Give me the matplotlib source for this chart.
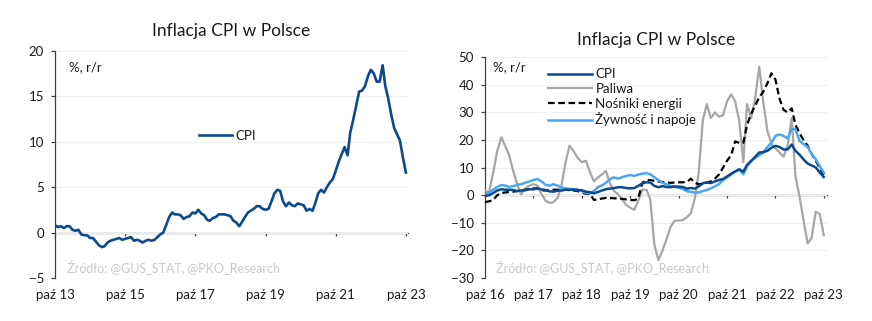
import matplotlib
matplotlib.use("Agg")
import matplotlib.pyplot as plt
import pandas as pd

plt.rcParams["font.family"] = ["Lato", "DejaVu Sans"]

# CPI y/y, %, Oct 2013 - Oct 2023
cpi = [
    0.8, 0.6, 0.7,
    0.5, 0.7, 0.7, 0.3, 0.2, 0.3, -0.2, -0.3, -0.3, -0.6, -0.6, -1.0,
    -1.4, -1.6, -1.5, -1.1, -0.9, -0.8, -0.7, -0.6, -0.8, -0.7, -0.6, -0.5,
    -0.9, -0.8, -0.9, -1.1, -0.9, -0.8, -0.9, -0.8, -0.5, -0.2, 0.0, 0.8,
    1.7, 2.2, 2.0, 2.0, 1.9, 1.5, 1.7, 1.8, 2.2, 2.1, 2.5, 2.1,
    1.9, 1.4, 1.3, 1.6, 1.7, 2.0, 2.0, 2.0, 1.9, 1.8, 1.3, 1.1,
    0.7, 1.2, 1.7, 2.2, 2.4, 2.6, 2.9, 2.9, 2.6, 2.5, 2.6, 3.4,
    4.3, 4.7, 4.6, 3.4, 2.9, 3.3, 3.0, 2.9, 3.2, 3.1, 3.0, 2.4,
    2.6, 2.4, 3.2, 4.3, 4.7, 4.4, 5.0, 5.5, 5.9, 6.8, 7.8, 8.6,
    9.4, 8.5, 11.0, 12.4, 13.9, 15.5, 15.6, 16.1, 17.2, 17.9, 17.5, 16.6,
    16.6, 18.4, 16.1, 14.7, 13.0, 11.5, 10.8, 10.1, 8.2, 6.6,
]

# components y/y, %, Oct 2016 - Oct 2023
fuel = [
    1.8, 1.0, 8.0, 16.0, 21.0, 18.0, 14.5, 9.0, 4.0, 0.3, 2.5, 3.5,
    4.0, 3.5, 0.5, -2.0, -2.8, -2.5, -1.0, 3.5, 12.0, 18.0, 16.0, 13.5,
    12.0, 12.5, 8.5, 5.0, 6.5, 7.5, 8.8, 4.5, 1.5, 0.5, -1.5, -3.5,
    -4.5, -5.3, -2.0, 2.0, 2.0, -1.5, -18.0, -23.5, -20.0, -16.0, -11.5, -9.2,
    -9.2, -9.0, -8.0, -6.5, -1.0, 8.0, 27.0, 33.0, 28.0, 30.0, 28.5, 29.0,
    34.0, 36.6, 34.0, 27.0, 12.0, 33.0, 28.0, 35.0, 46.6, 34.0, 23.5, 18.5,
    17.0, 15.5, 14.0, 18.0, 28.0, 7.0, -0.5, -9.0, -17.5, -15.5, -6.0, -6.8,
    -14.5,
]
energy = [
    -2.5, -2.2, -1.8, 0.0, 0.8, 1.0, 1.2, 1.3, 1.5, 1.8, 2.0, 2.2,
    2.5, 2.5, 1.8, 1.7, 1.8, 2.0, 2.0, 2.0, 2.0, 1.8, 1.7, 1.5,
    1.0, 0.5, 0.5, -1.7, -1.5, -1.2, -1.0, -1.0, -1.1, -1.2, -1.3, -1.5,
    -1.7, -1.8, -1.2, 4.5, 5.5, 5.5, 5.2, 5.0, 4.8, 4.7, 4.5, 4.6,
    4.7, 4.7, 4.8, 6.0, 4.5, 4.0, 4.2, 4.6, 5.0, 6.0, 7.5, 10.0,
    12.5, 14.5, 19.5, 19.0, 19.0, 25.5, 29.5, 32.5, 35.5, 37.5, 40.5, 44.2,
    42.0, 35.0, 31.0, 30.0, 31.5, 25.5, 22.5, 20.0, 18.0, 15.0, 12.5, 9.8,
    7.4,
]
food = [
    0.3, 1.0, 2.0, 3.0, 3.7, 3.5, 3.0, 3.3, 3.7, 4.0, 4.5, 5.0,
    5.5, 5.9, 5.0, 3.8, 3.5, 4.0, 3.5, 2.8, 2.5, 2.3, 2.2, 2.0,
    1.5, 0.8, 0.7, 1.5, 3.0, 3.5, 4.5, 5.8, 6.5, 6.0, 6.5, 7.0,
    7.3, 7.0, 7.5, 7.8, 8.0, 7.6, 6.5, 5.5, 4.5, 4.0, 3.4, 3.0,
    2.7, 2.3, 1.5, 1.2, 1.0, 1.0, 1.5, 1.9, 2.5, 3.2, 4.0, 5.5,
    6.5, 7.5, 8.6, 9.3, 7.6, 10.5, 12.5, 13.5, 14.5, 15.5, 17.5, 19.0,
    21.5, 22.0, 21.5, 20.6, 24.0, 24.0, 19.7, 18.5, 17.5, 15.0, 13.0, 10.5,
    8.2,
]

months = pd.date_range("2013-10-01", periods=len(cpi), freq="MS")
months_short = months[36:]
cpi_short = cpi[36:]

dark_blue = "#0b4a8f"
grey = "#a6a6a6"
light_blue = "#4ba6f2"
axis_col = "#404040"
text_col = "#1a1a1a"
source_col = "#c9c9c9"
W, H = 872, 321


def style_axes(ax, ylim, yticks, xticks, xlim):
    ax.set_ylim(*ylim)
    ax.set_yticks(yticks)
    ax.set_xlim(*xlim)
    ax.set_xticks(xticks)
    ax.set_xticklabels([f"paź {d:%y}" for d in xticks])
    for side in ("top", "right", "bottom"):
        ax.spines[side].set_visible(False)
    ax.spines["left"].set_color(axis_col)
    ax.spines["left"].set_linewidth(0.9)
    ax.tick_params(axis="y", length=3, width=0.9, color=axis_col,
                   labelsize=9.5, labelcolor=text_col, pad=5)
    ax.tick_params(axis="x", length=0, labelsize=9.5, labelcolor=text_col, pad=8)
    ax.grid(axis="y", color="#f0f0f0", linewidth=0.8)
    ax.set_axisbelow(True)

    # zero line with its own tick marks
    zero = ax.secondary_xaxis((0 - ylim[0]) / (ylim[1] - ylim[0]))
    zero.set_xticks(xticks)
    zero.tick_params(labelbottom=False, length=2.5, width=0.9, color=axis_col)
    zero.spines["bottom"].set_color(axis_col)
    zero.spines["bottom"].set_linewidth(0.9)


fig = plt.figure(figsize=(W / 100, H / 100), dpi=100)
ax1 = fig.add_axes([55 / W, 1 - 278 / H, (408 - 55) / W, (278 - 50.7) / H])
ax2 = fig.add_axes([485 / W, 1 - 278 / H, (826.7 - 485) / W, (278 - 57.3) / H])

# left: headline CPI, 10 years
ax1.plot(months, cpi, color=dark_blue, lw=1.9, label="CPI")
style_axes(ax1, (-5, 20), range(-5, 21, 5), months[::24],
           (months[0], months[-1] + pd.Timedelta(days=22)))
ax1.set_title("Inflacja CPI w Polsce", fontsize=12.5, color=text_col, pad=10.5)
ax1.text(0.04, 0.928, "%, r/r", transform=ax1.transAxes, fontsize=9.5,
         color=text_col, va="center")
ax1.text(0.034, 0.044, "Źródło: @GUS_STAT, @PKO_Research", transform=ax1.transAxes,
         fontsize=9, color=source_col, va="center")
ax1.legend(loc="center left", bbox_to_anchor=(0.39, 0.625), frameon=False,
           fontsize=9.5, handlelength=2.5, handletextpad=0.25, borderpad=0,
           labelcolor=text_col)

# right: CPI and its components, 7 years
ax2.plot(months_short, cpi_short, color=dark_blue, lw=1.8, label="CPI", zorder=5)
ax2.plot(months_short, fuel, color=grey, lw=1.6, label="Paliwa", zorder=3)
ax2.plot(months_short, energy, color="black", lw=1.6, ls=(0, (3, 1.6)),
         label="Nośniki energii", zorder=4)
ax2.plot(months_short, food, color=light_blue, lw=1.8, label="Żywność i napoje",
         zorder=4)
style_axes(ax2, (-30, 50), range(-30, 51, 10), months_short[::12],
           (months_short[0], months_short[-1] + pd.Timedelta(days=22)))
ax2.set_title("Inflacja CPI w Polsce", fontsize=12.5, color=text_col, pad=9)
ax2.text(0.023, 0.956, "%, r/r", transform=ax2.transAxes, fontsize=9.5,
         color=text_col, va="center")
ax2.text(0.032, 0.044, "Źródło: @GUS_STAT, @PKO_Research", transform=ax2.transAxes,
         fontsize=9, color=source_col, va="center")
ax2.legend(loc="upper left", bbox_to_anchor=(0.165, 0.98), frameon=False,
           fontsize=9.5, handlelength=3.3, handletextpad=0.3, borderpad=0,
           labelspacing=0.2, labelcolor=text_col)

fig.savefig("out.png", dpi=100)
